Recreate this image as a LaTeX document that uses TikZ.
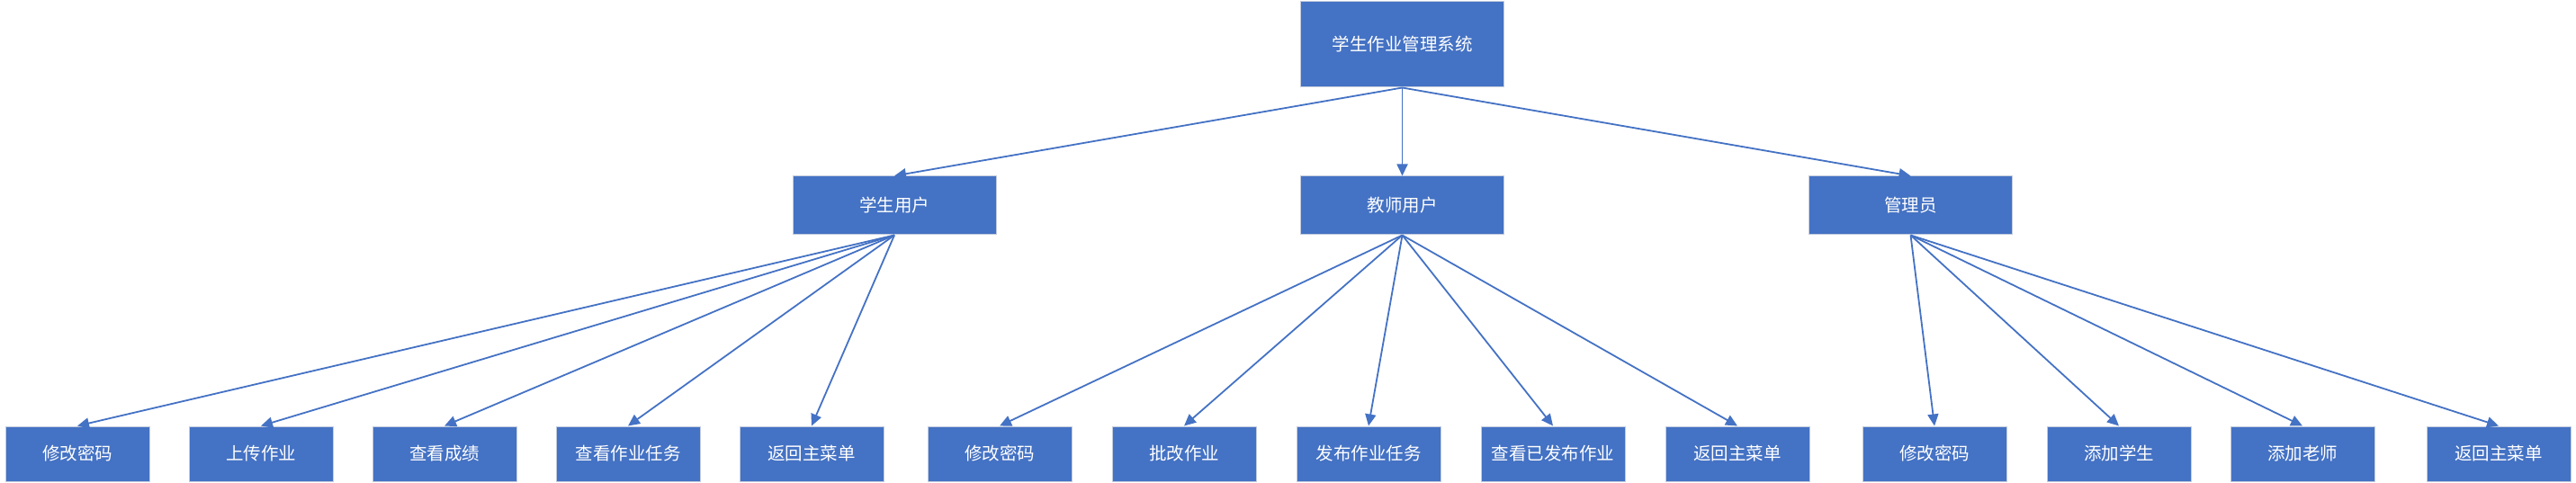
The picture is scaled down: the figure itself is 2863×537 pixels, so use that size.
\documentclass[tikz,border=0pt]{standalone}
\usepackage{fontspec}
\newfontfamily\cjk{Noto Sans CJK SC}
\usetikzlibrary{arrows.meta}
\definecolor{boxblue}{HTML}{4472C4}
\definecolor{boxedge}{HTML}{C3CCDD}
\begin{document}
\begin{tikzpicture}[x=1pt,y=-1pt,
  box/.style={rectangle,fill=boxblue,draw=boxedge,line width=1pt,text=white,
    font=\cjk\fontsize{19.5}{22}\selectfont,inner sep=0pt,anchor=center},
  topbox/.style={box,minimum width=226pt,minimum height=95pt},
  midbox/.style={box,minimum width=226pt,minimum height=65pt},
  leaf/.style={box,minimum width=160pt,minimum height=61pt},
  conn/.style={draw=boxblue,line width=1.8pt,-{Triangle[length=13pt,width=12pt]}}]
\useasboundingbox (0,0) rectangle (2863,537);
\node[topbox] (root) at (1558.5,49.5) {学生作业管理系统};
\node[midbox] (stu) at (994,228.5) {学生用户};
\node[midbox] (tea) at (1558.5,228.5) {教师用户};
\node[midbox] (adm) at (2123.5,228.5) {管理员};

\node[leaf] (s1) at (86,504.5) {修改密码};
\node[leaf] (s2) at (290,504.5) {上传作业};
\node[leaf] (s3) at (494,504.5) {查看成绩};
\node[leaf] (s4) at (698,504.5) {查看作业任务};
\node[leaf] (s5) at (902,504.5) {返回主菜单};

\node[leaf] (t1) at (1111,504.5) {修改密码};
\node[leaf] (t2) at (1316,504.5) {批改作业};
\node[leaf] (t3) at (1521,504.5) {发布作业任务};
\node[leaf] (t4) at (1726,504.5) {查看已发布作业};
\node[leaf] (t5) at (1931,504.5) {返回主菜单};

\node[leaf] (a1) at (2150,504.5) {修改密码};
\node[leaf] (a2) at (2355,504.5) {添加学生};
\node[leaf] (a3) at (2559,504.5) {添加老师};
\node[leaf] (a4) at (2777,504.5) {返回主菜单};

\foreach \c in {stu,tea,adm} \draw[conn] (root.south) -- (\c.north);
\foreach \c in {s1,s2,s3,s4,s5} \draw[conn] (stu.south) -- (\c.north);
\foreach \c in {t1,t2,t3,t4,t5} \draw[conn] (tea.south) -- (\c.north);
\foreach \c in {a1,a2,a3,a4} \draw[conn] (adm.south) -- (\c.north);
\end{tikzpicture}
\end{document}
